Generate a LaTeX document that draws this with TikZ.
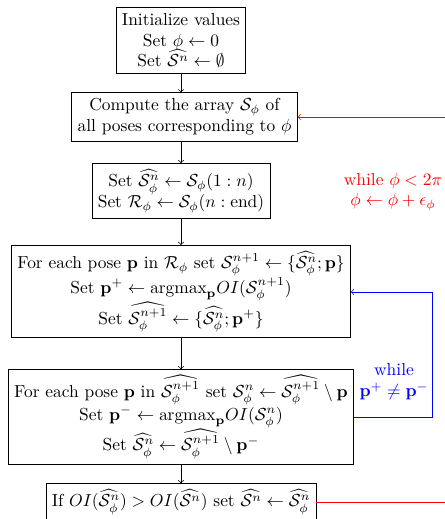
\documentclass[tikz,border=0pt]{standalone}
\usepackage{amsmath,amssymb}
\begin{document}
\begin{tikzpicture}[x=0.5747pt,y=-0.5747pt,
  stepbox/.style={draw,align=center,fill=white},
  flow/.style={->},
  redloop/.style={->,red},
  blueloop/.style={->,blue}]
\clip (0,0) rectangle (445,519);
\node[stepbox] (b1) at (181,40.5) {Initialize values\\ Set $\phi \leftarrow 0$\\ Set $\widehat{\mathcal{S}^n} \leftarrow \emptyset$};
\node[stepbox] (b2) at (184.5,117) {Compute the array $\mathcal{S}_\phi$ of\\ all poses corresponding to $\phi$};
\node[stepbox] (b3) at (181,191) {Set $\widehat{\mathcal{S}^n_\phi} \leftarrow \mathcal{S}_\phi(1:n)$\\ Set $\mathcal{R}_\phi \leftarrow \mathcal{S}_\phi(n:\mathrm{end})$};
\node[stepbox] (b4) at (181,291.5) {For each pose $\mathbf{p}$ in $\mathcal{R}_\phi$ set $\mathcal{S}^{n+1}_\phi \leftarrow \{\widehat{\mathcal{S}^n_\phi};\mathbf{p}\}$\\ Set $\mathbf{p}^+ \leftarrow \mathrm{argmax}_{\mathbf{p}} OI(\mathcal{S}^{n+1}_\phi)$\\ Set $\widehat{\mathcal{S}^{n+1}_\phi} \leftarrow \{\widehat{\mathcal{S}^n_\phi};\mathbf{p}^+\}$};
\node[stepbox] (b5) at (181,417) {For each pose $\mathbf{p}$ in $\widehat{\mathcal{S}^{n+1}_\phi}$ set $\mathcal{S}^n_\phi \leftarrow \widehat{\mathcal{S}^{n+1}_\phi} \setminus \mathbf{p}$\\ Set $\mathbf{p}^- \leftarrow \mathrm{argmax}_{\mathbf{p}} OI(\mathcal{S}^n_\phi)$\\ Set $\widehat{\mathcal{S}^n_\phi} \leftarrow \widehat{\mathcal{S}^{n+1}_\phi} \setminus \mathbf{p}^-$};
\node[stepbox] (b6) at (181,502) {If $OI(\widehat{\mathcal{S}^n_\phi}) > OI(\widehat{\mathcal{S}^n})$ set $\widehat{\mathcal{S}^n} \leftarrow \widehat{\mathcal{S}^n_\phi}$};
\draw[flow] (b1.south) -- (b1.south |- b2.north);
\draw[flow] (b1.south |- b2.south) -- (b3.north);
\draw[flow] (b3) -- (b4);
\draw[flow] (b4) -- (b5);
\draw[flow] (b5) -- (b6);
\coordinate (rb) at (470,502);
\coordinate (rt) at (470,117);
\draw[red] (b6.east) -- (rb);
\draw[redloop] (rt) -- (b2.east |- rt);
\node[red,align=center] (rl) at (393,192) {while $\phi < 2\pi$\\ $\phi \leftarrow \phi + \epsilon_\phi$};
\coordinate (bb) at (432,417);
\coordinate (bt) at (432,292);
\draw[blueloop] (b5.east |- bb) -- (bb) -- (bt) -- (b4.east |- bt);
\node[blue,align=center] (bl) at (394,382) {while\\ $\mathbf{p}^+ \neq \mathbf{p}^-$};
\end{tikzpicture}
\end{document}
